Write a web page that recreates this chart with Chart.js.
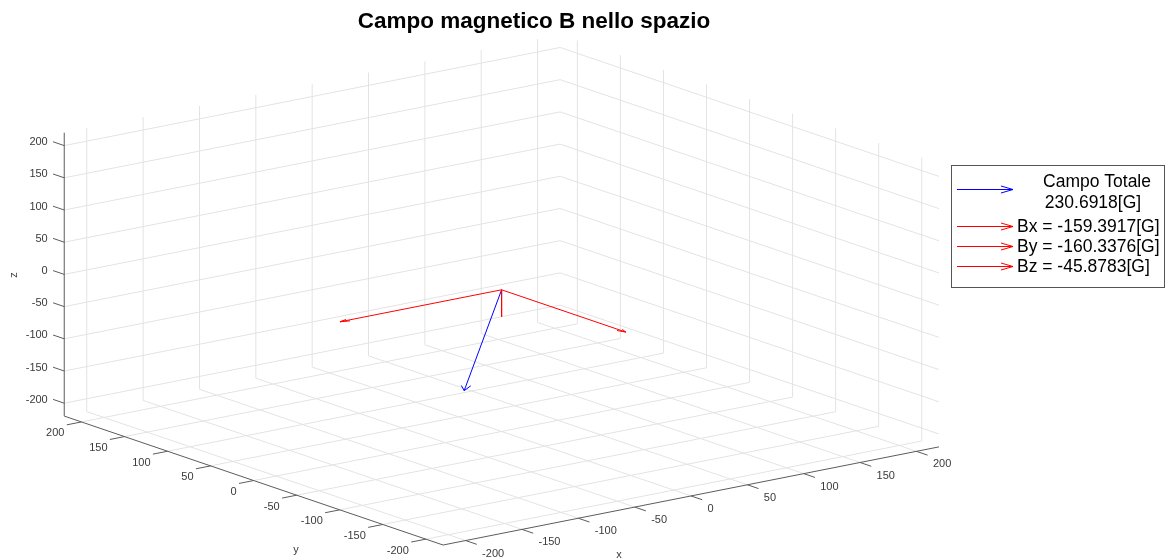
<!DOCTYPE html>
<html>
<head>
<meta charset="utf-8">
<title>Campo magnetico B nello spazio</title>
<script src="https://cdn.jsdelivr.net/npm/chart.js@4"></script>
<style>
    html, body { margin: 0; padding: 0; background: #fff; }
    #wrap { width: 1167px; height: 560px; position: relative; }
</style>
</head>
<body>
<div id="wrap"><canvas id="fieldChart"></canvas></div>
<script>
// Field components (gauss)
const componentNames = ['Bx', 'By', 'Bz'];
const componentValues = [-159.3917, -160.3376, -45.8783];
const totalLabel = 'Campo Totale';
const totalValue = 230.6918;

// Ticks and limits, shared by x, y and z
const tickValues = [-200, -150, -100, -50, 0, 50, 100, 150, 200];
const axisLimits = [-220, 220];

// quiver3 shrinks the arrows by its autoscale factor
const arrowScale = 0.9;

// View: where the origin lands and how one unit along x, y, z moves on the page
const view = {
    origin: [501.6, 289.8],
    ex: [1.127, -0.223],
    ey: [-0.861, -0.293],
    ez: [0, -0.644]
};

function project(p) {
    return {
        x: view.origin[0] + p[0] * view.ex[0] + p[1] * view.ey[0] + p[2] * view.ez[0],
        y: view.origin[1] + p[0] * view.ex[1] + p[1] * view.ey[1] + p[2] * view.ez[1]
    };
}

const gridColor = '#e3e3e3';
const axisColor = '#5c5c5c';
const textColor = '#3a3a3a';
const tickLen = 13;

// Build one line dataset from a list of 3D points
function line3d(points, color, order, width) {
    return {
        data: points.map(project),
        showLine: true,
        borderColor: color,
        borderWidth: width || 1,
        pointRadius: 0,
        tension: 0,
        fill: false,
        order: order
    };
}

const [lo, hi] = axisLimits;
const datasets = [];

// Grid on the back walls (y = hi, x = hi) and on the floor (z = lo)
tickValues.forEach(t => {
    datasets.push(line3d([[t, hi, lo], [t, hi, hi]], gridColor, 5));
    datasets.push(line3d([[lo, hi, t], [hi, hi, t]], gridColor, 5));
    datasets.push(line3d([[hi, t, lo], [hi, t, hi]], gridColor, 5));
    datasets.push(line3d([[hi, lo, t], [hi, hi, t]], gridColor, 5));
    datasets.push(line3d([[t, lo, lo], [t, hi, lo]], gridColor, 5));
    datasets.push(line3d([[lo, t, lo], [hi, t, lo]], gridColor, 5));
});

// Axis lines and tick marks
datasets.push(line3d([[lo, lo, lo], [hi, lo, lo]], axisColor, 4));
datasets.push(line3d([[lo, lo, lo], [lo, hi, lo]], axisColor, 4));
datasets.push(line3d([[lo, hi, lo], [lo, hi, hi]], axisColor, 4));
tickValues.forEach(t => {
    datasets.push(line3d([[t, lo, lo], [t, lo - tickLen, lo]], axisColor, 4));
    datasets.push(line3d([[lo, t, lo], [lo - tickLen, t, lo]], axisColor, 4));
    datasets.push(line3d([[lo, hi, t], [lo, hi + tickLen, t]], axisColor, 4));
});

// Arrows from the origin, quiver3 style heads
const headAlpha = 0.05;
const headBeta = 0.33;
function arrow(vec, color) {
    const [u, v, w] = vec;
    const eps = 1e-9;
    const tip = [u, v, w];
    const b1 = [u - headAlpha * (u + headBeta * (v + eps)), v - headAlpha * (v - headBeta * (u + eps)), w - headAlpha * w];
    const b2 = [u - headAlpha * (u - headBeta * (v + eps)), v - headAlpha * (v + headBeta * (u + eps)), w - headAlpha * w];
    datasets.push(line3d([[0, 0, 0], tip], color, 1));
    datasets.push(line3d([b1, tip, b2], color, 1));
}

const scaled = componentValues.map(v => v * arrowScale);
arrow([scaled[0], 0, 0], '#ff0000');
arrow([0, scaled[1], 0], '#ff0000');
arrow([0, 0, scaled[2]], '#ff0000');
arrow([scaled[0], scaled[1], scaled[2]], '#0000ff');

// Texts: title, tick labels, axis names and the legend
const textPlugin = {
    id: 'texts3d',
    afterDatasetsDraw(chart) {
        const ctx = chart.ctx;
        const xs = chart.scales.x, ys = chart.scales.y;
        const px = p => ({ x: xs.getPixelForValue(p.x), y: ys.getPixelForValue(p.y) });
        const at = p3 => px(project(p3));

        ctx.save();
        ctx.fillStyle = textColor;
        ctx.font = '11px "Liberation Sans", Arial, sans-serif';
        ctx.textBaseline = 'middle';

        tickValues.forEach(t => {
            // x labels: left aligned, below the x axis
            let p = at([t, lo, lo]);
            ctx.textAlign = 'left';
            ctx.fillText(String(t), p.x + 16.5, p.y + 13);
            // y labels: right aligned
            p = at([lo, t, lo]);
            ctx.textAlign = 'right';
            ctx.fillText(String(t), p.x - 17, p.y + 11.5);
            // z labels
            p = at([lo, hi, t]);
            ctx.fillText(String(t), p.x - 16.5, p.y - 3.4);
        });

        ctx.textAlign = 'center';
        ctx.fillText('x', 619, 555);
        ctx.fillText('y', 296, 550);
        ctx.save();
        ctx.translate(14, 275);
        ctx.rotate(-Math.PI / 2);
        ctx.fillText('z', 0, 0);
        ctx.restore();

        // Title
        ctx.fillStyle = '#000';
        ctx.font = 'bold 22.5px "Liberation Sans", Arial, sans-serif';
        ctx.textBaseline = 'alphabetic';
        ctx.fillText('Campo magnetico B nello spazio', 534, 28);

        // Legend
        const box = { left: 951, top: 165, right: 1164, bottom: 287 };
        ctx.fillStyle = '#fff';
        ctx.fillRect(box.left, box.top, box.right - box.left, box.bottom - box.top);
        ctx.strokeStyle = '#555';
        ctx.lineWidth = 1;
        ctx.strokeRect(box.left + 0.5, box.top + 0.5, box.right - box.left, box.bottom - box.top);

        const drawIcon = (y, color) => {
            ctx.strokeStyle = color;
            ctx.lineWidth = 1;
            ctx.beginPath();
            ctx.moveTo(957, y);
            ctx.lineTo(1013, y);
            ctx.moveTo(1001, y - 3.5);
            ctx.lineTo(1013, y);
            ctx.lineTo(1001, y + 3.5);
            ctx.stroke();
        };

        ctx.font = '17.5px "Liberation Sans", Arial, sans-serif';
        ctx.fillStyle = '#000';
        drawIcon(189.5, '#0000ff');
        ctx.textAlign = 'center';
        ctx.fillText(totalLabel, 1097, 187);
        ctx.fillText(totalValue.toFixed(4) + '[G]', 1093, 207.5);

        ctx.textAlign = 'left';
        componentNames.forEach((name, i) => {
            const base = 232 + i * 20;
            drawIcon(base - 5.5, '#ff0000');
            ctx.fillText(name + ' = ' + componentValues[i].toFixed(4) + '[G]', 1017, base);
        });

        ctx.restore();
    }
};

new Chart(document.getElementById('fieldChart'), {
    type: 'scatter',
    data: { datasets: datasets },
    options: {
        responsive: true,
        maintainAspectRatio: false,
        animation: false,
        layout: { padding: 0 },
        plugins: {
            legend: { display: false },
            tooltip: { enabled: false },
            title: { display: false }
        },
        scales: {
            x: { type: 'linear', min: 0, max: 1167, display: false },
            y: { type: 'linear', min: 0, max: 560, reverse: true, display: false }
        }
    },
    plugins: [textPlugin]
});
</script>
</body>
</html>
